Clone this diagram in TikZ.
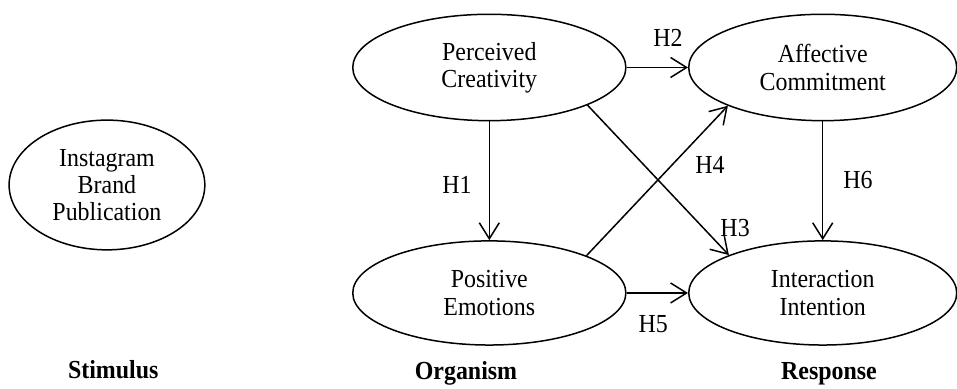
\documentclass[tikz,border=0pt]{standalone}
\usepackage{fontspec}
\setmainfont{Liberation Serif}[FakeStretch=0.92]
\usepackage{tikz}
\usetikzlibrary{shapes, arrows.meta, positioning, calc}

\begin{document}
\begin{tikzpicture}[
    construct/.style={draw, ellipse, line width=0.75pt, inner sep=0pt, align=center,
      font=\fontsize{13}{13.6}\selectfont, minimum width=4.8cm, minimum height=1.87cm},
    hyparrow/.style={line width=0.75pt, -{Straight Barb[length=8pt, width=10pt]}},
    hyplabel/.style={font=\fontsize{13}{13.6}\selectfont, inner sep=1pt},
    stage/.style={font=\fontsize{13}{13.6}\selectfont\bfseries}
  ]
  \useasboundingbox (0, 0) rectangle (16.82, 6.836);

  % Stimulus
  \node[construct, minimum width=3.44cm, minimum height=2.28cm] (insta) at (1.88, 3.585) {Instagram\\Brand\\Publication};

  % Organism
  \node[construct] (creat) at (8.60, 5.65) {Perceived\\Creativity};
  \node[construct, minimum height=1.83cm] (emot) at (8.60, 1.687) {Positive\\Emotions};

  % Response
  \node[construct, minimum width=4.71cm] (commit) at (14.46, 5.65) {Affective\\Commitment};
  \node[construct, minimum width=4.71cm, minimum height=1.83cm] (intent) at (14.46, 1.687) {Interaction\\Intention};

  % Hypotheses
  \draw[hyparrow] (creat.south) -- (emot.north);
  \draw[hyparrow] (creat.east) -- (commit.west);
  \draw[hyparrow] (creat.-21.5) -- (intent.158.5);
  \draw[hyparrow] (emot.21.8) -- (commit.202.8);
  \draw[hyparrow] (emot.east) -- (intent.west);
  \draw[hyparrow] (commit.south) -- (intent.north);

  \node[hyplabel] (h1) at (8.03, 3.585) {H1};
  \node[hyplabel] (h2) at (11.74, 6.17) {H2};
  \node[hyplabel] (h3) at (12.92, 2.83) {H3};
  \node[hyplabel] (h4) at (12.48, 3.94) {H4};
  \node[hyplabel] (h5) at (11.48, 1.14) {H5};
  \node[hyplabel] (h6) at (15.08, 3.67) {H6};

  % S-O-R stages
  \node[stage] (stim) at (1.99, 0.334) {Stimulus};
  \node[stage] (org) at (8.19, 0.28) {Organism};
  \node[stage] (resp) at (14.57, 0.26) {Response};
\end{tikzpicture}
\end{document}
